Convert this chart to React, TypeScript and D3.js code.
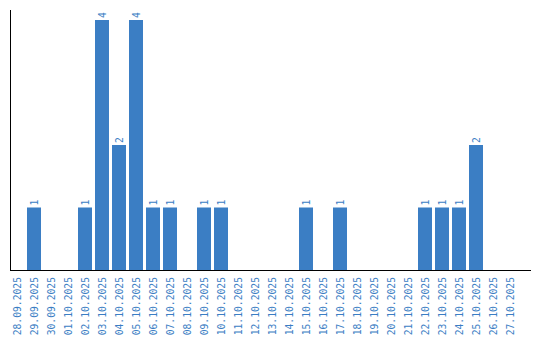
import React from "react";
import * as d3 from "d3";

const dates = [
  "28.09.2025", "29.09.2025", "30.09.2025", "01.10.2025", "02.10.2025",
  "03.10.2025", "04.10.2025", "05.10.2025", "06.10.2025", "07.10.2025",
  "08.10.2025", "09.10.2025", "10.10.2025", "11.10.2025", "12.10.2025",
  "13.10.2025", "14.10.2025", "15.10.2025", "16.10.2025", "17.10.2025",
  "18.10.2025", "19.10.2025", "20.10.2025", "21.10.2025", "22.10.2025",
  "23.10.2025", "24.10.2025", "25.10.2025", "26.10.2025", "27.10.2025",
];
const counts = [
  0, 1, 0, 0, 1,
  4, 2, 4, 1, 1,
  0, 1, 1, 0, 0,
  0, 0, 1, 0, 1,
  0, 0, 0, 0, 1,
  1, 1, 2, 0, 0,
];

const W = 540;
const H = 340;
const BLUE = "#3b7ec4";
const FONT = "'DejaVu Sans Mono', monospace";

export default function App() {
  const x = d3
    .scaleBand<string>()
    .domain(dates)
    .range([8.5, 518.5])
    .paddingInner(3 / 17)
    .paddingOuter(1.5 / 17);
  const y = d3.scaleLinear().domain([0, 4]).range([270, 20]);

  return (
    <svg
      width={W}
      height={H}
      style={{ position: "absolute", left: 0, top: 0, background: "#fff" }}
    >
      {dates.map((d, i) =>
        counts[i] > 0 ? (
          <g key={d}>
            <rect
              x={x(d)}
              y={y(counts[i])}
              width={x.bandwidth()}
              height={y(0) - y(counts[i])}
              fill={BLUE}
            />
            <text
              transform={`translate(${(x(d) as number) + x.bandwidth() / 2 + 3.5},${y(counts[i]) - 2}) rotate(-90)`}
              fontFamily={FONT}
              fontSize={9.7}
              fill={BLUE}
              textAnchor="start"
            >
              {counts[i]}
            </text>
          </g>
        ) : null
      )}
      <line x1={10.5} x2={10.5} y1={10} y2={270} stroke="#000" strokeWidth={1} />
      <line x1={10} x2={531} y1={270.5} y2={270.5} stroke="#000" strokeWidth={1} />
      {dates.map((d) => (
        <text
          key={"l" + d}
          transform={`translate(${(x(d) as number) + x.bandwidth() / 2 + 3.5},277) rotate(-90)`}
          fontFamily={FONT}
          fontSize={9.7}
          fill={BLUE}
          textAnchor="end"
        >
          {d}
        </text>
      ))}
    </svg>
  );
}
